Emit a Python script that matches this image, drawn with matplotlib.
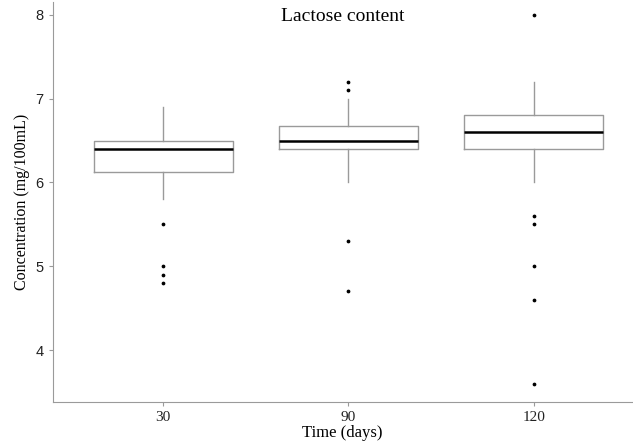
import matplotlib
matplotlib.use("Agg")
from matplotlib import pyplot as plt

# 箱线图数据
days = ["30", "90", "120"]
q1 = [6.13, 6.40, 6.40]
med = [6.40, 6.50, 6.60]
q3 = [6.50, 6.68, 6.80]
whislo = [5.80, 6.00, 6.00]
whishi = [6.90, 7.00, 7.20]
fliers = [
    [5.5, 5.0, 4.9, 4.8],
    [7.2, 7.1, 5.3, 4.7],
    [8.0, 5.6, 5.5, 5.0, 4.6, 3.6],
]

stats = []
for i in range(len(days)):
    stats.append(dict(label=days[i], q1=q1[i], med=med[i], q3=q3[i],
                      whislo=whislo[i], whishi=whishi[i], fliers=fliers[i]))

serif = "Liberation Serif"
gray = "#9a9a9a"

fig = plt.figure(figsize=(6.33, 4.48), dpi=100)
ax = fig.add_axes([0.0833, 0.1027, 0.915, 0.893])

ax.bxp(stats, positions=[1, 2, 3], widths=0.75, showcaps=False,
       boxprops=dict(color=gray, linewidth=1.0),
       whiskerprops=dict(color=gray, linewidth=1.0),
       medianprops=dict(color="black", linewidth=1.8),
       flierprops=dict(marker="o", markersize=1.7, markerfacecolor="black",
                       markeredgecolor="black", linestyle="none"))

ax.set_xlim(0.405, 3.53)
ax.set_ylim(3.38, 8.155)
ax.set_yticks([4, 5, 6, 7, 8])
ax.set_xticks([1, 2, 3])
ax.set_xticklabels(days, fontfamily=serif, fontsize=11)
for t in ax.get_yticklabels():
    t.set_fontfamily("Liberation Sans")
    t.set_fontsize(10.5)

for s in ["top", "right"]:
    ax.spines[s].set_visible(False)
for s in ["left", "bottom"]:
    ax.spines[s].set_color(gray)
ax.tick_params(colors=gray, length=3, labelcolor="#222222")

ax.set_xlabel("Time (days)", fontfamily=serif, fontsize=12, labelpad=1)
ax.set_ylabel("Concentration (mg/100mL)", fontfamily=serif, fontsize=11.5)
ax.text(0.5, 0.985, "Lactose content", transform=ax.transAxes, ha="center",
        va="top", fontfamily=serif, fontsize=14)

plt.savefig("out.png", dpi=100)
